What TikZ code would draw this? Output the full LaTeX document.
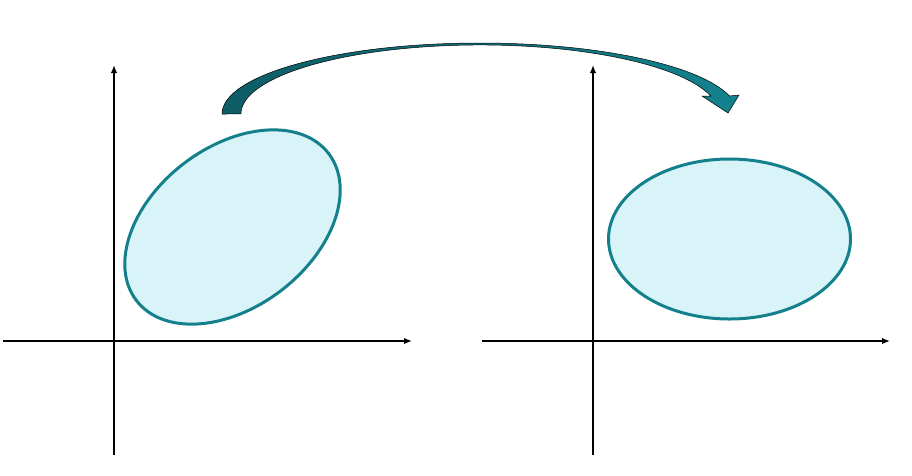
\documentclass[tikz,border=0pt]{standalone}
\usepackage{tikz}
\usetikzlibrary{arrows.meta,shapes.geometric}
\definecolor{tealline}{HTML}{13808C}
\definecolor{tealfill}{HTML}{D8F4F8}
\definecolor{tealdark}{HTML}{0E5C66}
\definecolor{teallight}{HTML}{13828E}

\begin{document}
\begin{tikzpicture}[x=1pt, y=-1pt,
  axis/.style={line width=2pt, -{Latex[length=8pt,width=6.5pt]}},
  blob/.style={ellipse, draw=tealline, line width=3pt, fill=tealfill,
    minimum width=242pt, minimum height=160pt, inner sep=0pt}
]
\useasboundingbox (0,0) rectangle (912,475);
% left coordinate system
\coordinate (xl0) at (3,341);
\coordinate (xl1) at (412,341);
\coordinate (yl0) at (114,455);
\coordinate (yl1) at (114,65);
\draw[axis] (xl0) -- (xl1);
\draw[axis] (yl0) -- (yl1);
% right coordinate system
\coordinate (xr0) at (482,341);
\coordinate (xr1) at (890,341);
\coordinate (yr0) at (593,455);
\coordinate (yr1) at (593,65);
\draw[axis] (xr0) -- (xr1);
\draw[axis] (yr0) -- (yr1);
% ellipses
\node[blob, rotate=37.4] (before) at (232.5,227) {};
\node[blob] (after) at (729.5,239) {};
% curved arrow
\shadedraw[left color=tealdark, right color=teallight, draw=black, line width=0.5pt]
  (222,114) arc[start angle=180, end angle=345.3, x radius=258, y radius=71]
  -- (739,95) -- (728,113) -- (702,96) -- (710.7,96)
  arc[start angle=344.9, end angle=180, x radius=239, y radius=69] -- cycle;
\end{tikzpicture}
\end{document}
